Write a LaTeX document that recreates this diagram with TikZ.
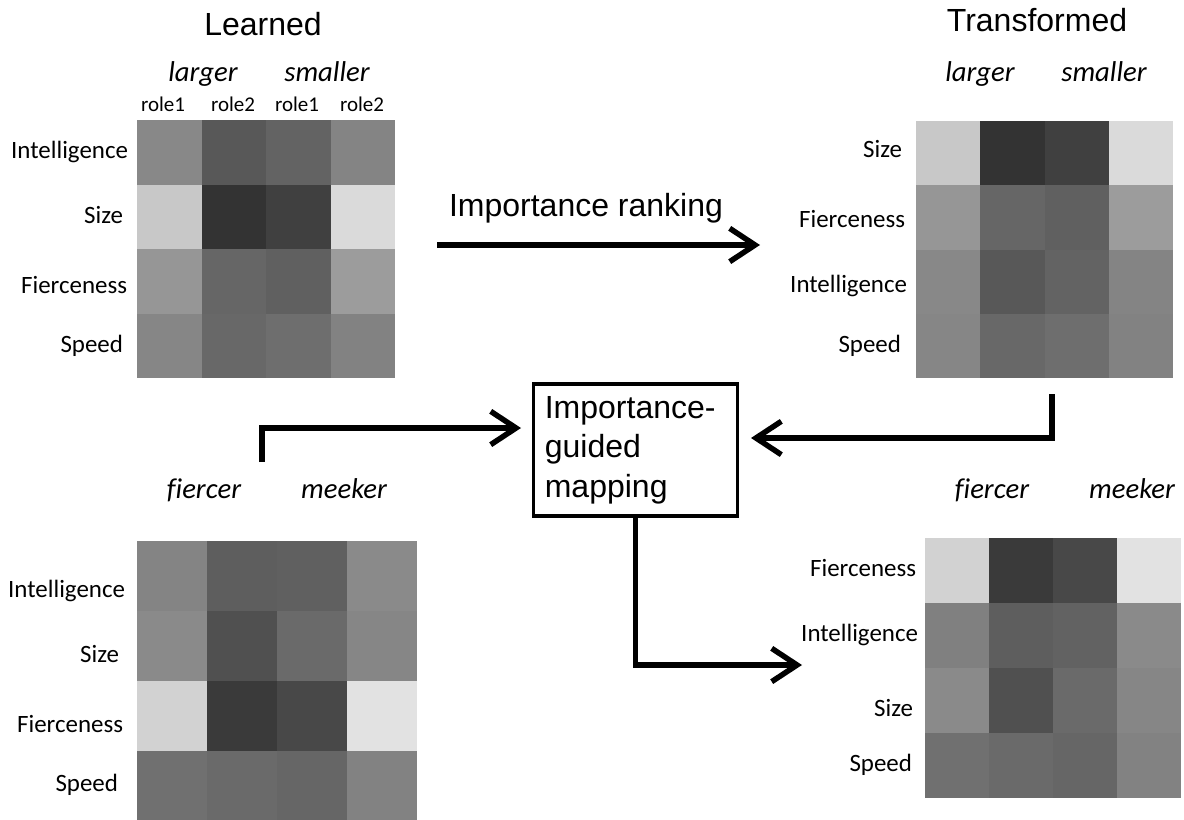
\documentclass[tikz,border=0pt]{standalone}
\usepackage{fontspec}
\setmainfont{Liberation Sans}
\newfontfamily\calfont[Ligatures=NoCommon]{Carlito}
\usetikzlibrary{arrows.meta}

\begin{document}
\begin{tikzpicture}[x=0.75pt,y=-0.75pt,->,>={Straight Barb[length=19pt,width=25pt]},
    line width=4.1pt,
    every node/.style={outer sep=0pt},
    title/.style={anchor=base,font=\fontsize{24}{28}\selectfont},
    head/.style={anchor=base,font=\calfont\itshape\fontsize{21.5}{26}\selectfont},
    role/.style={anchor=base,font=\calfont\fontsize{15.75}{19}\selectfont},
    attr/.style={anchor=base east,inner xsep=0pt,font=\calfont\fontsize{18.7}{22}\selectfont},
    cellfill/.style={-,fill={rgb,255:red,#1;green,#1;blue,#1}}]

    \useasboundingbox (0,0) rectangle (1184,820);

    % learned map (top left)
    \node[title] (learned) at (263,36) {Learned};
    \node[head] (larger1) at (203,82) {larger};
    \node[head] (smaller1) at (327,82) {smaller};
    \node[role] (r11) at (163,112) {role1};
    \node[role] (r12) at (233,112) {role2};
    \node[role] (r13) at (297,112) {role1};
    \node[role] (r14) at (362,112) {role2};
    \foreach [count=\i] \vals in {{136,88,99,132},{200,51,64,218},{150,102,96,156},{134,104,110,130}}
      \foreach [count=\j] \v in \vals
        \fill[cellfill=\v] ({137+64.5*(\j-1)},{120+64.5*(\i-1)}) rectangle ++(64.5,64.5);
    \node[attr] (int1) at (128,158) {Intelligence};
    \node[attr] (siz1) at (123,223) {Size};
    \node[attr] (fie1) at (127,293) {Fierceness};
    \node[attr] (spe1) at (123,352) {Speed};

    % transformed map (top right)
    \node[title] (transformed) at (1037,32) {Transformed};
    \node[head] (larger2) at (980,82) {larger};
    \node[head] (smaller2) at (1104,82) {smaller};
    \foreach [count=\i] \vals in {{200,51,64,218},{150,102,96,156},{136,88,99,132},{134,104,110,130}}
      \foreach [count=\j] \v in \vals
        \fill[cellfill=\v] ({916+64.25*(\j-1)},{121+64.25*(\i-1)}) rectangle ++(64.25,64.25);
    \node[attr] (siz2) at (902,157) {Size};
    \node[attr] (fie2) at (905,227) {Fierceness};
    \node[attr] (int2) at (907,292) {Intelligence};
    \node[attr] (spe2) at (901,352) {Speed};

    % learned map (bottom left)
    \node[head] (fiercer1) at (204,498) {fiercer};
    \node[head] (meeker1) at (344,498) {meeker};
    \foreach [count=\i] \vals in {{132,94,96,138},{138,80,106,134},{210,58,72,226},{112,106,102,130}}
      \foreach [count=\j] \v in \vals
        \fill[cellfill=\v] ({137+70*(\j-1)},{541+70*(\i-1)}) rectangle ++(70,70);
    \node[attr] (int3) at (125,597) {Intelligence};
    \node[attr] (siz3) at (119,662) {Size};
    \node[attr] (fie3) at (123,732) {Fierceness};
    \node[attr] (spe3) at (118,791) {Speed};

    % transformed map (bottom right)
    \node[head] (fiercer2) at (992,498) {fiercer};
    \node[head] (meeker2) at (1132,498) {meeker};
    \foreach [count=\i] \vals in {{210,58,72,226},{128,94,98,138},{138,80,106,134},{112,106,102,130}}
      \foreach [count=\j] \v in \vals
        \fill[cellfill=\v] ({925+64*(\j-1)},{538+65*(\i-1)}) rectangle ++(64,65);
    \node[attr] (fie4) at (916,576) {Fierceness};
    \node[attr] (int4) at (918,641) {Intelligence};
    \node[attr] (siz4) at (913,716) {Size};
    \node[attr] (spe4) at (912,771) {Speed};

    % mapping box
    \node[draw,
          line width=2.4pt,
          align=left,
          text width=136pt,
          inner sep=8.5pt,
          minimum height=99pt,
          font=\fontsize{24}{29.5}\selectfont] (map) at (635.5,450)
          {\rule{0pt}{6pt}Importance-\\guided\\mapping};

    \node[title] (ranklabel) at (586,216) {Importance ranking};

    \coordinate (rankL) at (437,245);
    \coordinate (rankR) at (760,245);
    \coordinate (fromBL) at (262,462);
    \coordinate (inL) at (521,428);
    \coordinate (fromTR) at (1052,394);
    \coordinate (inR) at (751,438);
    \coordinate (toBR) at (802,665);

    \draw (rankL) -- (rankR);
    \draw (fromBL) |- (inL);
    \draw (fromTR) |- (inR);
    \draw (map.south) |- (toBR);

\end{tikzpicture}
\end{document}
